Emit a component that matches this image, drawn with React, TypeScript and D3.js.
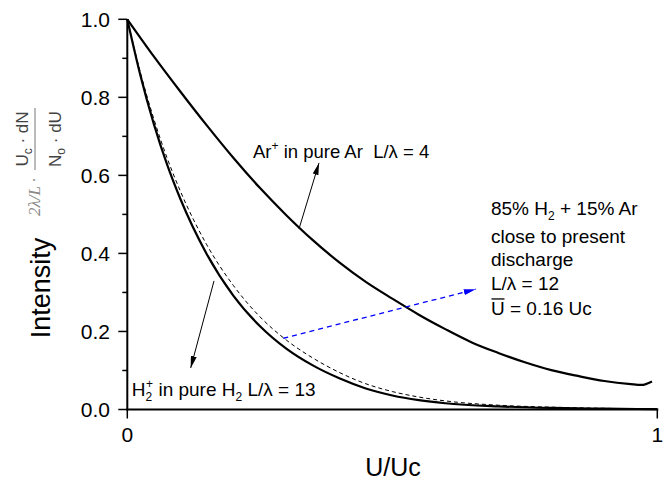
import React from "react";
import * as d3 from "d3";

// Ar+ in pure Ar, L/λ = 4
const arX = [0, 0.05, 0.1, 0.15, 0.2, 0.25, 0.3, 0.35, 0.4, 0.45, 0.5, 0.55, 0.6, 0.65, 0.7, 0.75, 0.8, 0.85, 0.9, 0.95, 0.97, 0.99];
const arY = [1, 0.905, 0.815, 0.728, 0.645, 0.568, 0.498, 0.434, 0.377, 0.327, 0.284, 0.243, 0.206, 0.172, 0.145, 0.121, 0.101, 0.086, 0.073, 0.065, 0.063, 0.072];
// H2+ in pure H2, L/λ = 13
const h2X = [0, 0.025, 0.05, 0.075, 0.1, 0.15, 0.2, 0.25, 0.3, 0.35, 0.4, 0.45, 0.5, 0.55, 0.6, 0.7, 0.8, 0.9, 1.0];
const h2Y = [1, 0.855, 0.732, 0.628, 0.54, 0.398, 0.292, 0.214, 0.156, 0.113, 0.08, 0.054, 0.036, 0.024, 0.016, 0.008, 0.004, 0.002, 0.001];
// 85% H2 + 15% Ar, L/λ = 12
const mixX = [0, 0.025, 0.05, 0.075, 0.1, 0.15, 0.2, 0.25, 0.3, 0.35, 0.4, 0.45, 0.5, 0.55, 0.6, 0.7, 0.8, 0.9, 1.0];
const mixY = [1, 0.862, 0.745, 0.645, 0.56, 0.422, 0.318, 0.238, 0.178, 0.132, 0.095, 0.066, 0.046, 0.032, 0.022, 0.011, 0.006, 0.003, 0.0015];

const yMajor = [0, 0.2, 0.4, 0.6, 0.8, 1.0];
const yMinor = [0.1, 0.3, 0.5, 0.7, 0.9];
const xMajor = [0, 1];

const FONT = "'Liberation Sans', Arial, Helvetica, sans-serif";

export default function App() {
  const x = d3.scaleLinear().domain([0, 1]).range([127.3, 657.3]);
  const y = d3.scaleLinear().domain([0, 1]).range([409.5, 19.3]);
  const line = d3
    .line<[number, number]>()
    .x((d) => x(d[0]))
    .y((d) => y(d[1]))
    .curve(d3.curveMonotoneX);
  const zip = (a: number[], b: number[]) => a.map((v, i) => [v, b[i]] as [number, number]);

  const tx = (v: number) => x(v);
  const ty = (v: number) => y(v);

  return (
    <svg
      width={672}
      height={485}
      style={{ position: "absolute", left: 0, top: 0, background: "#fff" }}
      fontFamily={FONT}
    >
      <defs>
        <marker id="ah" viewBox="0 0 12 6" refX="12" refY="3" markerWidth="12" markerHeight="6" markerUnits="userSpaceOnUse" orient="auto">
          <path d="M0,0 L12,3 L0,6 Z" fill="#000" />
        </marker>
        <marker id="ahb" viewBox="0 0 12 6" refX="12" refY="3" markerWidth="12" markerHeight="6" markerUnits="userSpaceOnUse" orient="auto">
          <path d="M0,0 L12,3 L0,6 Z" fill="#0000ff" />
        </marker>
      </defs>

      {/* curves */}
      <path d={line(zip(mixX, mixY)) || ""} fill="none" stroke="#000" strokeWidth={1} strokeDasharray="4,3" />
      <path d={line(zip(h2X, h2Y)) || ""} fill="none" stroke="#000" strokeWidth={2.2} />
      <path d={line(zip(arX, arY)) || ""} fill="none" stroke="#000" strokeWidth={2.2} />

      {/* axes */}
      <line x1={x(0)} x2={x(0)} y1={y(1)} y2={y(0) + 1} stroke="#000" strokeWidth={2} />
      <line x1={x(0) - 1} x2={x(1) + 1} y1={y(0)} y2={y(0)} stroke="#000" strokeWidth={2} />
      {yMajor.map((v) => (
        <g key={"ym" + v}>
          <line x1={x(0) - 9} x2={x(0)} y1={y(v)} y2={y(v)} stroke="#000" strokeWidth={1.5} />
          <text x={110} y={y(v)} dy="0.36em" textAnchor="end" fontSize={21}>
            {v.toFixed(1)}
          </text>
        </g>
      ))}
      {yMinor.map((v) => (
        <line key={"yn" + v} x1={x(0) - 5} x2={x(0)} y1={y(v)} y2={y(v)} stroke="#000" strokeWidth={1.5} />
      ))}
      {xMajor.map((v) => (
        <g key={"xm" + v}>
          <line x1={x(v)} x2={x(v)} y1={y(0)} y2={y(0) + 9} stroke="#000" strokeWidth={1.5} />
          <text x={x(v)} y={442} textAnchor="middle" fontSize={21}>
            {String(v)}
          </text>
        </g>
      ))}

      {/* axis titles */}
      <text x={393} y={476} textAnchor="middle" fontSize={25}>
        U/Uc
      </text>
      <text transform="translate(50,288) rotate(-90)" textAnchor="middle" fontSize={27}>
        Intensity
      </text>
      {/* formula label */}
      <g fill="#444">
        <text transform="translate(28,139) rotate(-90)" textAnchor="middle" fontSize={17}>
          U<tspan fontSize={12} dy={4}>c</tspan>
          <tspan dy={-4}> · dN</tspan>
        </text>
        <line x1={35} x2={35} y1={108} y2={170} stroke="#777" strokeWidth={1} />
        <text transform="translate(61,139) rotate(-90)" textAnchor="middle" fontSize={17}>
          N<tspan fontSize={12} dy={4}>o</tspan>
          <tspan dy={-4}> · dU</tspan>
        </text>
      </g>
      <text
        transform="translate(40,197) rotate(-90)"
        textAnchor="middle"
        fontSize={17}
        fontStyle="italic"
        fontFamily="'Liberation Serif', 'Times New Roman', serif"
        fill="#888"
      >
        2λ/L ·
      </text>

      {/* annotation arrows */}
      <line x1={tx(0.324)} y1={ty(0.463)} x2={tx(0.3617)} y2={ty(0.632)} stroke="#000" strokeWidth={1} markerEnd="url(#ah)" />
      <line x1={tx(0.1636)} y1={ty(0.3295)} x2={tx(0.1196)} y2={ty(0.1064)} stroke="#000" strokeWidth={1} markerEnd="url(#ah)" />
      <line
        x1={tx(0.2943)}
        y1={ty(0.1826)}
        x2={tx(0.6574)}
        y2={ty(0.3082)}
        stroke="#0000ff"
        strokeWidth={1.3}
        strokeDasharray="5,4"
        markerEnd="url(#ahb)"
      />

      {/* annotation texts */}
      <text x={tx(0.2372)} y={ty(0.6449)} fontSize={18.5} style={{ whiteSpace: "pre" }}>
        Ar<tspan fontSize={12} dy={-8}>+</tspan>
        <tspan dy={8}>{" in pure Ar  L/λ = 4"}</tspan>
      </text>
      <text x={tx(0.0083)} y={ty(0.0354)} fontSize={19} style={{ whiteSpace: "pre" }}>
        H<tspan fontSize={12} dy={5}>2</tspan>
        <tspan fontSize={12} dx={-6} dy={-13}>+</tspan>
        <tspan dy={8}>{" in pure H"}</tspan>
        <tspan fontSize={12} dy={5}>2</tspan>
        <tspan dy={-5}>{" L/λ = 13"}</tspan>
      </text>
      <g fontSize={19}>
        <text x={tx(0.6862)} y={ty(0.4987)} style={{ whiteSpace: "pre" }}>
          85% H<tspan fontSize={12} dy={5}>2</tspan>
          <tspan dy={-5}>{" + 15% Ar"}</tspan>
        </text>
        <text x={tx(0.6862)} y={ty(0.4269)}>close to present</text>
        <text x={tx(0.6862)} y={ty(0.3679)}>discharge</text>
        <text x={tx(0.6862)} y={ty(0.3064)}>L/λ = 12</text>
        <text x={tx(0.6862)} y={ty(0.2423)}>U = 0.16 Uc</text>
        <line x1={tx(0.6862) + 0.5} x2={tx(0.6862) + 13.5} y1={ty(0.2423) - 16} y2={ty(0.2423) - 16} stroke="#000" strokeWidth={1.3} />
      </g>
    </svg>
  );
}
